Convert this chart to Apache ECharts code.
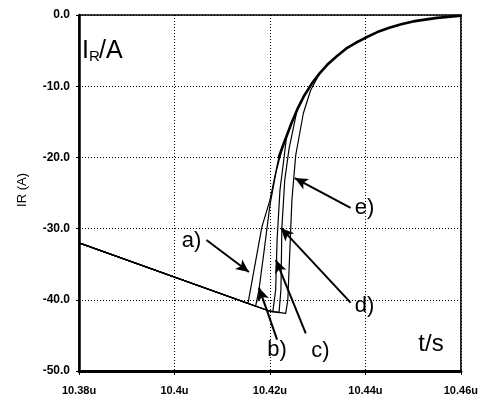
<!DOCTYPE html>
<html>
<head>
<meta charset="utf-8">
<script src="https://cdn.jsdelivr.net/npm/echarts@6/dist/echarts.min.js"></script>
<style>html,body{margin:0;padding:0;background:#fff;}#c{width:481px;height:401px;}</style>
</head>
<body>
<div id="c"></div>
<script>
// time in ns, current in A
const xTickValues = [10380, 10400, 10420, 10440, 10460];
const xTickLabels = ['10.38u', '10.4u', '10.42u', '10.44u', '10.46u'];
const yTickValues = [0, -10, -20, -30, -40, -50];
const yTickLabels = ['0.0', '-10.0', '-20.0', '-30.0', '-40.0', '-50.0'];

const curveA = [[10380, -32.0], [10415.4, -40.5], [10418.3, -29.8], [10420.0, -26.0], [10421.9, -19.9]];
const curveB = [[10380, -32.0], [10417.0, -40.9], [10417.7, -38.6], [10418.8, -33.0], [10420.0, -26.7], [10421.3, -22.0], [10422.7, -18.4]];
const curveC = [[10380, -32.0], [10420.0, -41.6], [10420.6, -41.7], [10421.2, -38.6], [10421.5, -31.6], [10422.1, -24.6], [10423.0, -19.8], [10423.5, -17.0]];
const curveD = [[10380, -32.0], [10420.0, -41.6], [10421.9, -41.8], [10422.3, -38.6], [10422.5, -29.9], [10423.1, -23.2], [10424.0, -18.8], [10425.7, -13.3]];
const curveE = [[10380, -32.0], [10420.0, -41.6], [10423.3, -41.9], [10423.75, -40.0], [10424.6, -26.0], [10425.4, -19.7], [10427.0, -13.8], [10428.5, -10.6], [10430.4, -8.2]];
const tail = [[10421.9, -19.9], [10422.7, -18.4], [10423.5, -17.0], [10424.5, -15.2], [10425.7, -13.3], [10427.2, -11.3],
  [10428.8, -9.6], [10430.4, -8.2], [10432.0, -7.0], [10434.0, -5.8], [10436.0, -4.7], [10438.0, -3.9], [10440.0, -3.2],
  [10442.5, -2.4], [10445.0, -1.8], [10447.5, -1.3], [10450.0, -0.9], [10455.0, -0.4], [10460.0, -0.1]];

const curveNames = ['a)', 'b)', 'c)', 'd)', 'e)'];
// arrow: [from t, from I, to t, to I]; label anchor [t, I]
const arrowLines = [
  [10406.7, -31.6, 10415.6, -36.1],
  [10421.5, -45.6, 10417.7, -38.3],
  [10427.5, -44.7, 10421.25, -34.4],
  [10436.9, -40.4, 10422.3, -29.9],
  [10436.9, -27.1, 10425.2, -22.9]
];
const labelAnchors = [
  [10403.6, -31.7],
  [10421.5, -47.1],
  [10430.6, -47.2],
  [10439.8, -40.9],
  [10439.8, -27.1]
];

const FONT = '"Liberation Sans", Arial, Helvetica, sans-serif';
const chart = echarts.init(document.getElementById('c'), null, {renderer: 'canvas'});

function lineSeries(name, data, width) {
  return {
    name: name, type: 'line', data: data, showSymbol: false, symbol: 'none', smooth: false,
    lineStyle: {color: '#000', width: width, join: 'round', cap: 'round'}, z: 5, silent: true, animation: false
  };
}

const option = {
  animation: false,
  backgroundColor: '#fff',
  grid: {left: 79, right: 18, top: 15, bottom: 30, show: true, borderColor: '#000', borderWidth: 1.5, backgroundColor: 'transparent'},
  xAxis: {
    type: 'value', min: 10380, max: 10460, interval: 20,
    axisLine: {show: true, onZero: false, lineStyle: {color: '#000', width: 3}},
    axisTick: {show: true, length: 4, lineStyle: {color: '#000', width: 1}},
    axisLabel: {margin: 14, color: '#000', fontFamily: FONT, fontWeight: 'bold', fontSize: 11,
      formatter: v => { const i = xTickValues.indexOf(Math.round(v)); return i >= 0 ? xTickLabels[i] : ''; }},
    splitLine: {show: true, lineStyle: {color: '#000', width: 1, type: [1, 2]}}
  },
  yAxis: {
    type: 'value', min: -50, max: 0, interval: 10,
    axisLine: {show: true, onZero: false, lineStyle: {color: '#000', width: 2.5}},
    axisTick: {show: true, length: 3, lineStyle: {color: '#000', width: 1}},
    axisLabel: {margin: 9, color: '#000', fontFamily: FONT, fontWeight: 'bold', fontSize: 12,
      formatter: v => { const i = yTickValues.indexOf(Math.round(v)); return i >= 0 ? yTickLabels[i] : ''; }},
    splitLine: {show: true, lineStyle: {color: '#000', width: 1, type: [1, 2]}}
  },
  series: [
    lineSeries('a', curveA, 1.2),
    lineSeries('b', curveB, 1.2),
    lineSeries('c', curveC, 1.2),
    lineSeries('d', curveD, 1.2),
    lineSeries('e', curveE, 1.2),
    Object.assign(lineSeries('tail', tail, 2.6), {
      markLine: {
        silent: true, animation: false,
        symbol: ['none', 'arrow'], symbolSize: [9, 13],
        lineStyle: {color: '#000', width: 2, type: 'solid'},
        label: {show: false},
        data: arrowLines.map(a => [{coord: [a[0], a[1]]}, {coord: [a[2], a[3]]}])
      }
    })
  ]
};
chart.setOption(option);

const graphics = [
  {type: 'text', x: 22, y: 190, rotation: Math.PI / 2,
    style: {text: 'IR (A)', font: '13px ' + FONT, fill: '#000', textAlign: 'center', textVerticalAlign: 'middle'}},
  {type: 'text', x: 82, y: 51,
    style: {text: 'I', font: '25px ' + FONT, fill: '#000', textAlign: 'left', textVerticalAlign: 'middle'}},
  {type: 'text', x: 89, y: 57,
    style: {text: 'R', font: '15px ' + FONT, fill: '#000', textAlign: 'left', textVerticalAlign: 'middle'}},
  {type: 'text', x: 99, y: 51,
    style: {text: '/A', font: '25px ' + FONT, fill: '#000', textAlign: 'left', textVerticalAlign: 'middle'}},
  {type: 'text', x: 431, y: 344,
    style: {text: 't/s', font: '24px ' + FONT, fill: '#000', textAlign: 'center', textVerticalAlign: 'middle'}}
];
labelAnchors.forEach((p, i) => {
  const px = chart.convertToPixel({gridIndex: 0}, p);
  graphics.push({type: 'text', x: px[0], y: px[1],
    style: {text: curveNames[i], font: '22px ' + FONT, fill: '#000', textAlign: 'center', textVerticalAlign: 'middle'}});
});
chart.setOption({graphic: graphics});
</script>
</body>
</html>
